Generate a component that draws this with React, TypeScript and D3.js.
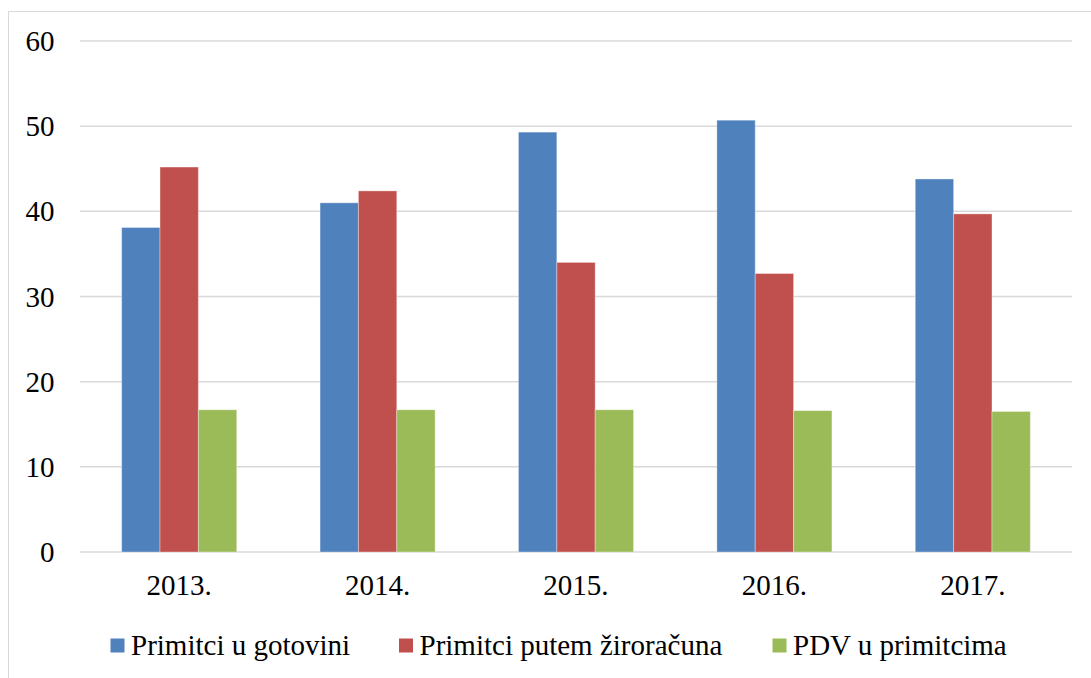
import * as d3 from "d3";

const years = ["2013.", "2014.", "2015.", "2016.", "2017."];
const seriesNames = ["Primitci u gotovini", "Primitci putem žiroračuna", "PDV u primitcima"];
const gotovina = [38.1, 41.0, 49.3, 50.7, 43.8];
const ziroracun = [45.2, 42.4, 34.0, 32.7, 39.7];
const pdv = [16.7, 16.7, 16.7, 16.6, 16.5];
const yTicks = [0, 10, 20, 30, 40, 50, 60];
const colors = ["#4F81BD", "#C0504D", "#9BBB59"];

const W = 1091;
const H = 678;
const font = "Liberation Serif, DejaVu Serif, serif";

export default function App() {
  const values = [gotovina, ziroracun, pdv];

  const x = d3.scaleBand<string>().domain(years).range([80, 1072]).paddingInner(0.42).paddingOuter(0.21);
  const x1 = d3.scaleBand<number>().domain([0, 1, 2]).range([0, x.bandwidth()]);
  const y = d3.scaleLinear().domain([0, 60]).range([552, 41]);

  // legend swatch x positions
  const legendX = [110.5, 399, 772.5];

  const txt = { fontFamily: font, fontSize: "29px" };

  return (
    <svg width={W} height={H} style={{ position: "absolute", left: 0, top: 0, background: "#fff" }}>
      {/* outer frame */}
      <line x1={8.5} x2={8.5} y1={11} y2={H} stroke="#d9d9d9" strokeWidth={1} />
      <line x1={8} x2={W} y1={11.5} y2={11.5} stroke="#d9d9d9" strokeWidth={1} />

      {/* grid + y labels */}
      {yTicks.map((t) => (
        <g key={t}>
          <line x1={80} x2={1072} y1={y(t)} y2={y(t)} stroke="#d9d9d9" strokeWidth={1.5} />
          <text x={54.5} y={y(t) + 10} textAnchor="end" style={txt} fill="#000">
            {t}
          </text>
        </g>
      ))}

      {/* bars */}
      {years.map((yr, i) => (
        <g key={yr} transform={`translate(${x(yr)},0)`}>
          {values.map((arr, s) => (
            <rect
              key={s}
              x={x1(s)}
              y={y(arr[i])}
              width={x1.bandwidth()}
              height={y(0) - y(arr[i])}
              fill={colors[s]}
              stroke="#ffffff"
              strokeOpacity={0.35}
              strokeWidth={1}
            />
          ))}
          <text x={x.bandwidth() / 2} y={595} textAnchor="middle" style={txt} fill="#000">
            {yr}
          </text>
        </g>
      ))}

      {/* legend */}
      {seriesNames.map((name, s) => (
        <g key={name}>
          <rect x={legendX[s]} y={638.5} width={14} height={14} fill={colors[s]} />
          <text x={legendX[s] + 20.5} y={654.5} style={txt} fill="#000">
            {name}
          </text>
        </g>
      ))}
    </svg>
  );
}
